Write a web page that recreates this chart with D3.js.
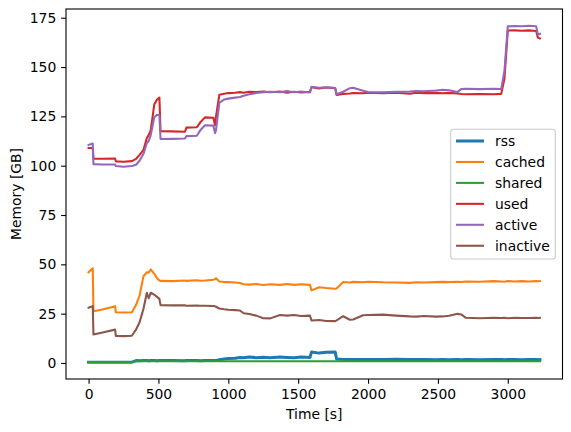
<!DOCTYPE html>
<html><head><meta charset="utf-8">
<script src="https://cdn.jsdelivr.net/npm/d3@7/dist/d3.min.js"></script>
<style>
html,body{margin:0;padding:0;background:#fff;}
svg{display:block;font-family:"DejaVu Sans",sans-serif;}
</style></head>
<body><svg id="c" width="571" height="432"></svg>
<script>
const times = [0,30,35,100,190,195,250,310,340,365,393,417,430,445,470,490,507,515,600,690,700,775,800,833,893,905,912,936,970,1000,1050,1083,1110,1150,1200,1250,1300,1370,1420,1470,1520,1584,1596,1650,1700,1765,1775,1822,1870,1893,1965,2000,2107,2200,2298,2345,2400,2488,2533,2580,2640,2667,2700,2800,2900,2953,2976,3000,3050,3100,3150,3203,3215,3230];
const rss = [0.4,0.4,0.4,0.4,0.4,0.4,0.4,0.4,1.2,1.1,1.3,1.2,1.1,1.3,1.2,1.1,1.3,1.2,1.3,1.1,1.3,1.2,1.1,1.3,1.2,1.3,1.2,1.6,2.0,2.3,2.4,2.8,2.6,3.0,2.7,2.9,2.6,3.0,2.8,2.6,3.0,2.8,5.6,5.0,5.4,5.5,2.0,1.8,1.7,1.8,1.7,1.8,1.7,1.9,1.7,1.8,1.7,1.6,1.7,1.6,1.7,1.6,1.7,1.6,1.7,1.8,1.6,1.7,1.8,1.6,1.7,1.8,1.6,1.7];
const cached = [46,48,26.2,27.1,28.8,25.7,25.6,25.7,29.5,34.2,44,46,45.8,47.4,45.2,43,41.8,41.6,41.5,41.8,41.6,41.9,41.7,41.8,42.2,42.5,43,41.3,41.0,41.0,40.8,40.5,39.9,39.7,40,39.5,39.9,39.6,40.0,39.6,39.9,39.6,36.8,38.4,38,37.6,37.8,41,40.8,41.1,40.9,41.2,40.9,40.8,40.6,40.9,40.8,41.0,41.1,41.0,41.2,41.0,41.3,41.2,41.5,41.3,41.2,41.5,41.3,41.5,41.3,41.5,41.4,41.5];
const shared = [0.5,0.5,0.5,0.5,0.5,0.5,0.5,0.5,0.9,0.9,0.9,0.9,0.9,0.9,0.9,0.9,0.9,0.9,0.9,0.9,0.9,0.9,0.9,0.9,0.9,0.9,0.9,0.9,0.9,0.9,0.9,0.9,0.9,0.9,0.9,0.9,0.9,0.9,0.9,0.9,0.9,0.9,0.9,0.9,0.9,0.9,0.9,0.9,0.9,0.9,0.9,0.9,0.9,0.9,0.9,0.9,0.9,0.9,0.9,0.9,0.9,0.9,0.9,0.9,0.9,0.9,0.9,0.9,0.9,0.9,0.9,0.9,0.9,0.9];
const used = [109,109,103.5,103.5,103.6,102.2,102.0,102.3,103.5,105.5,108,114,115.5,118,131,133.5,134.5,117.5,117.4,117.2,119.3,119.5,122,124.5,124.3,120.5,125,136,136.5,136.8,137.0,137.3,137.0,137.5,137.3,137.6,137.2,137.6,137.0,137.5,137.1,137.4,139.8,139.2,139.6,139.3,135.8,136.4,136.6,136.8,136.7,137.0,136.8,137.0,136.5,137.0,136.8,136.9,136.7,136.9,136.6,136.3,136.2,136.3,136.2,136.4,144,168.5,168.6,168.4,168.6,168.3,165,164.5];
const active = [110.5,111.2,100.8,100.6,100.6,99.8,99.5,99.8,100.5,102.5,106,111.5,112.5,115.5,124.5,125.8,125.5,113.5,113.6,113.8,115,115.2,118,120.5,120.3,116.5,118,132,133.5,134,134.5,134.8,135.5,136.2,136.8,137.2,137.5,137.2,137.8,137.2,137.6,137.1,140,139.5,139.8,139.4,136.2,137.5,139.3,139.5,138,137.3,137.2,137.4,137.6,137.9,137.7,138.1,138.5,138.2,137.4,138.8,139,138.8,139,138.9,148,170.6,170.8,170.7,170.9,170.7,166.5,166.8];
const inactive = [28,28.8,14.4,15.4,16.9,13.7,13.6,13.8,17,20.6,27.5,35.6,32.8,35.6,34.6,33.5,32.5,29.3,29.2,29.2,29.0,29.1,29.0,29.0,28.9,28.7,28.5,27.6,27.2,27.0,26.8,26.6,25.2,24.8,24.0,22.7,22.6,24.3,24.0,24.3,23.8,24.0,21.5,21.8,21.3,21.2,21.6,23.7,21.9,22.0,24.2,24.3,24.5,24.0,23.6,23.5,23.8,23.5,23.6,23.9,24.9,24.6,22.9,22.7,22.9,22.8,22.9,22.7,22.9,22.8,22.8,22.9,22.8,22.9];
const seriesNames = ["rss","cached","shared","used","active","inactive"];
const seriesValues = [rss,cached,shared,used,active,inactive];
const seriesColors = ["#1f77b4","#ff7f0e","#2ca02c","#d62728","#9467bd","#8c564b"];
const seriesWidths = [3.0,2.08,2.08,2.08,2.08,2.08];
const xTicks = [0,500,1000,1500,2000,2500,3000];
const yTicks = [0,25,50,75,100,125,150,175];
const xLabel = "Time [s]";
const yLabel = "Memory [GB]";

const svg = d3.select("#c");
const L=66, R=562.5, T=9, B=379;
const [tmin,tmax] = d3.extent(times);
const tm = (tmax-tmin)*0.05;
const x = d3.scaleLinear().domain([tmin-tm,tmax+tm]).range([L,R]);
const allV = seriesValues.flat();
const [vmin,vmax] = d3.extent(allV);
const vm = (vmax-vmin)*0.05;
const y = d3.scaleLinear().domain([vmin-vm,vmax+vm]).range([B,T]);

const fs = 13.9;
const xa = svg.append("g").attr("transform",`translate(0,${B})`)
  .call(d3.axisBottom(x).tickValues(xTicks).tickFormat(d3.format("d")).tickSizeOuter(0).tickSize(4.86).tickPadding(4.86));
const ya = svg.append("g").attr("transform",`translate(${L},0)`)
  .call(d3.axisLeft(y).tickValues(yTicks).tickFormat(d3.format("d")).tickSizeOuter(0).tickSize(4.86).tickPadding(4.86));
[xa,ya].forEach(a=>{
  a.select(".domain").remove();
  a.selectAll(".tick line").attr("stroke","#000").attr("stroke-width",1.1);
  a.selectAll(".tick text").attr("fill","#000").style("font-size",fs+"px").style("font-family","DejaVu Sans");
});

const line = d3.line().x((d,i)=>x(times[i])).y(d=>y(d));
const plot = svg.append("g");
seriesValues.forEach((vals,k)=>{
  plot.append("path").datum(vals).attr("d",line).attr("fill","none")
    .attr("stroke",seriesColors[k]).attr("stroke-width",seriesWidths[k])
    .attr("stroke-linejoin","round").attr("stroke-linecap","square");
});

svg.append("rect").attr("x",L).attr("y",T).attr("width",R-L).attr("height",B-T)
  .attr("fill","none").attr("stroke","#000").attr("stroke-width",1.1);

svg.append("text").attr("x",(L+R)/2).attr("y",419).attr("text-anchor","middle")
  .style("font-size",fs+"px").text(xLabel);
svg.append("text").attr("transform",`translate(21,${(T+B)/2}) rotate(-90)`).attr("text-anchor","middle")
  .style("font-size",fs+"px").text(yLabel);

// legend
const lg = svg.append("g");
lg.append("rect").attr("x",450.7).attr("y",129.3).attr("width",104.6).attr("height",129.7)
  .attr("rx",2.8).attr("fill","#fff").attr("fill-opacity",0.8).attr("stroke","#cccccc").attr("stroke-width",1.1);
seriesNames.forEach((n,k)=>{
  const yy = 141 + k*20.95;
  lg.append("line").attr("x1",456).attr("x2",484).attr("y1",yy).attr("y2",yy)
    .attr("stroke",seriesColors[k]).attr("stroke-width",seriesWidths[k]);
  lg.append("text").attr("x",495).attr("y",yy+5).style("font-size",fs+"px").text(n);
});
</script></body></html>
